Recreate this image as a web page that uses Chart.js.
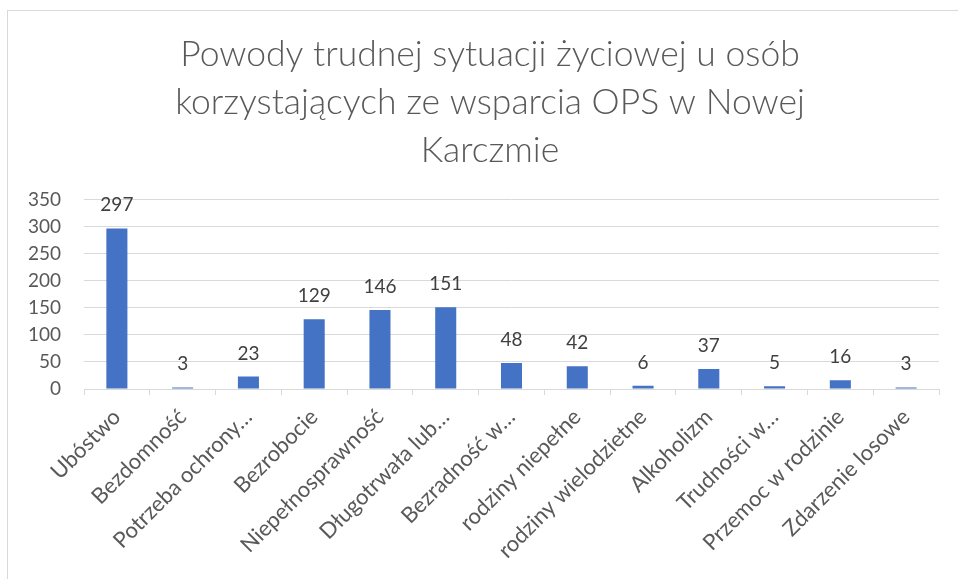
<!DOCTYPE html>
<html>
<head>
<meta charset="utf-8">
<script src="https://cdn.jsdelivr.net/npm/chart.js@4"></script>
<style>
  html, body { margin: 0; padding: 0; background: #fff; overflow: hidden; }
  #wrap { position: relative; width: 958px; height: 579px; overflow: hidden; }
  #frame { position: absolute; left: 7px; top: 10px; width: 960px; height: 580px;
           border-left: 1px solid #d9d9d9; border-top: 1px solid #d9d9d9; }
  canvas { position: absolute; left: 0; top: 0; }
</style>
</head>
<body>
<div id="wrap">
  <div id="frame"></div>
  <canvas id="chart" width="980" height="579"></canvas>
</div>
<script>
// Categories (as shown, truncated the same way)
const categories = ['Ubóstwo', 'Bezdomność', 'Potrzeba ochrony…', 'Bezrobocie', 'Niepełnosprawność',
    'Długotrwała lub…', 'Bezradność w…', 'rodziny niepełne', 'rodziny wielodzietne', 'Alkoholizm',
    'Trudności w…', 'Przemoc w rodzinie', 'Zdarzenie losowe'];
const values = [297, 3, 23, 129, 146, 151, 48, 42, 6, 37, 5, 16, 3];
const titleLines = ['Powody trudnej sytuacji życiowej u osób',
    'korzystających ze wsparcia OPS w Nowej', 'Karczmie'];
const yMax = 350;
const yStep = 50;

const barLabels = {
    id: 'barLabels',
    afterDatasetsDraw(chart) {
        const ctx = chart.ctx;
        const meta = chart.getDatasetMeta(0);
        ctx.save();
        ctx.font = '19px Lato';
        ctx.fillStyle = '#404040';
        ctx.textAlign = 'center';
        ctx.textBaseline = 'alphabetic';
        meta.data.forEach((bar, i) => {
            ctx.fillText(String(values[i]), bar.x, bar.y - 17);
        });
        ctx.restore();
    }
};

const chart = new Chart(document.getElementById('chart'), {
    type: 'bar',
    data: {
        labels: categories,
        datasets: [{
            data: values,
            backgroundColor: '#4472C4',
            barPercentage: 0.64,
            categoryPercentage: 0.5
        }]
    },
    options: {
        responsive: false,
        animation: false,
        layout: { padding: 0 },
        plugins: {
            legend: { display: false },
            tooltip: { enabled: false },
            title: {
                display: true,
                text: titleLines,
                color: '#595959',
                font: { family: 'Lato', size: 35.5, weight: 300, lineHeight: 1.35 },
                padding: { top: 31, bottom: 25 }
            }
        },
        scales: {
            x: {
                grid: { display: true, drawOnChartArea: false, drawTicks: true, tickLength: 6, color: '#d9d9d9', offset: true },
                border: { display: true, color: '#d9d9d9' },
                ticks: { color: '#595959', font: { family: 'Lato', size: 22 }, minRotation: 45, maxRotation: 45, autoSkip: false, padding: 9 },
                afterFit(scale) { scale.height = 190; }
            },
            y: {
                min: 0,
                max: yMax,
                ticks: { stepSize: yStep, color: '#595959', font: { family: 'Lato', size: 19 }, padding: 23 },
                grid: { color: '#d9d9d9', drawTicks: false },
                border: { display: false },
                afterFit(scale) { scale.width = 84; }
            },
            spacer: {
                type: 'linear',
                position: 'right',
                display: true,
                ticks: { display: false },
                grid: { display: false },
                border: { display: false },
                afterFit(scale) { scale.width = 41; }
            }
        }
    },
    plugins: [barLabels]
});
</script>
</body>
</html>
